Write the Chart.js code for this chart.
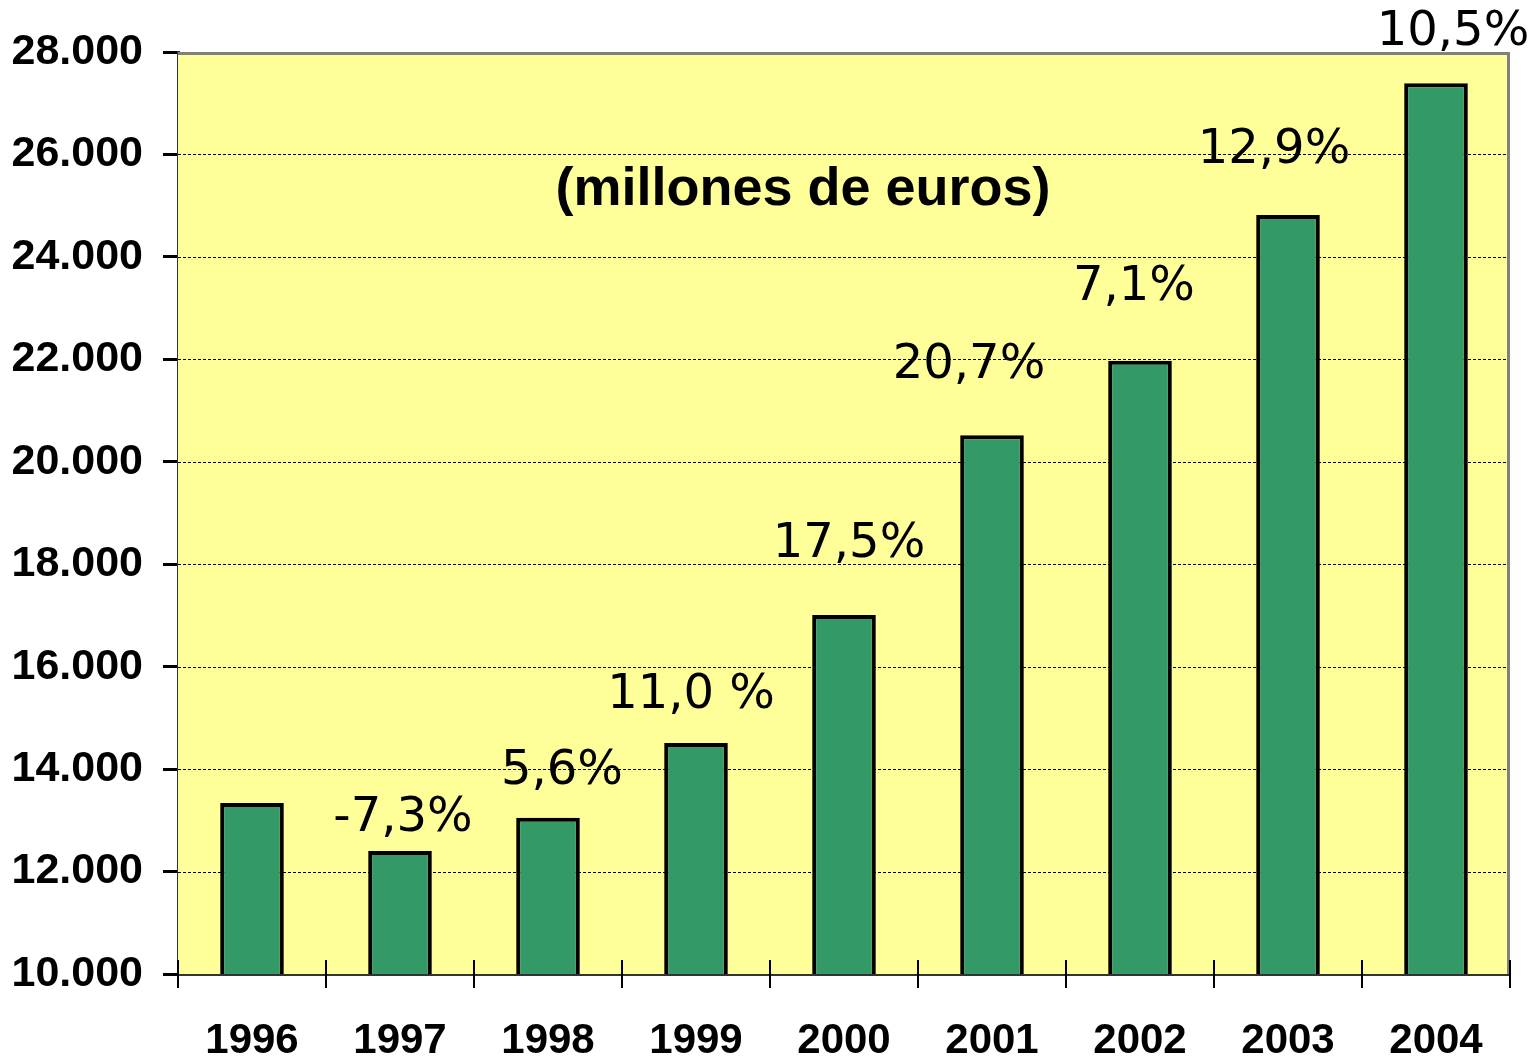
<!DOCTYPE html>
<html>
<head>
<meta charset="utf-8">
<script src="https://cdn.jsdelivr.net/npm/chart.js@4.4.1/dist/chart.umd.min.js"></script>
<style>
  html, body { margin: 0; padding: 0; background: #fff; }
  #wrap { position: relative; width: 1537px; height: 1057px; }
</style>
</head>
<body>
<div id="wrap"><canvas id="chart"></canvas></div>
<script>
// Datos del grafico
const years = ['1996', '1997', '1998', '1999', '2000', '2001', '2002', '2003', '2004'];
const amounts = [13340, 12400, 13050, 14510, 17010, 20520, 21970, 24820, 27390];
const growthLabels = ['', '-7,3%', '5,6%', '11,0 %', '17,5%', '20,7%', '7,1%', '12,9%', '10,5%'];
const yTickMin = 10000;
const yTickMax = 28000;
const yTickStep = 2000;
const unitText = '(millones de euros)';

// desplazamiento de cada etiqueta respecto a la parte alta de su barra
const labelShift = [[0, 0], [3, -33], [14, -46], [-5, -47], [5, -70], [-23, -70], [-6, -73], [-14, -64], [17, -51]];

function thousands(v) {
    return String(v).replace(/\B(?=(\d{3})+(?!\d))/g, '.');
}

const plotDecor = {
    id: 'plotDecor',
    beforeDatasetsDraw(chart) {
        const { ctx, chartArea: a, scales: { y } } = chart;
        ctx.save();
        ctx.fillStyle = '#ffff99';
        ctx.fillRect(a.left, a.top, a.right - a.left, a.bottom - a.top);

        // lineas de division punteadas
        ctx.strokeStyle = '#000';
        ctx.lineWidth = 1;
        ctx.setLineDash([3, 2]);
        y.ticks.forEach(t => {
            if (t.value === yTickMin || t.value === yTickMax) return;
            const py = Math.round(y.getPixelForValue(t.value)) + 0.5;
            ctx.beginPath();
            ctx.moveTo(a.left, py);
            ctx.lineTo(a.right, py);
            ctx.stroke();
        });
        ctx.setLineDash([]);

        // borde gris arriba y a la derecha
        ctx.strokeStyle = '#808080';
        ctx.lineWidth = 3;
        ctx.beginPath();
        ctx.moveTo(a.left, a.top + 1.5);
        ctx.lineTo(a.right - 1.5, a.top + 1.5);
        ctx.lineTo(a.right - 1.5, a.bottom);
        ctx.stroke();
        ctx.restore();
    },
    afterDatasetsDraw(chart) {
        const { ctx, chartArea: a, scales: { x } } = chart;
        ctx.save();

        // marcas del eje x entre categorias
        const half = (x.getPixelForTick(1) - x.getPixelForTick(0)) / 2;
        ctx.strokeStyle = '#000';
        ctx.lineWidth = 2;
        for (let i = 0; i <= years.length; i++) {
            const px = Math.round(i < years.length ? x.getPixelForTick(i) - half : x.getPixelForTick(i - 1) + half);
            ctx.beginPath();
            ctx.moveTo(px, a.bottom - 14);
            ctx.lineTo(px, a.bottom + 14);
            ctx.stroke();
        }

        // etiquetas de crecimiento
        const meta = chart.getDatasetMeta(0);
        ctx.fillStyle = '#000';
        ctx.font = '48px "DejaVu Sans"';
        ctx.textAlign = 'center';
        ctx.textBaseline = 'middle';
        growthLabels.forEach((txt, i) => {
            if (!txt) return;
            const bar = meta.data[i];
            ctx.fillText(txt, bar.x + labelShift[i][0], bar.y + labelShift[i][1]);
        });

        // unidad
        ctx.font = 'bold 54px "Liberation Sans"';
        ctx.fillText(unitText, 803, 190);
        ctx.restore();
    }
};

new Chart(document.getElementById('chart'), {
    type: 'bar',
    data: {
        labels: years,
        datasets: [{
            data: amounts,
            backgroundColor: '#339966',
            borderColor: '#000',
            borderWidth: 4,
            borderSkipped: 'start',
            categoryPercentage: 1,
            barPercentage: 0.43
        }]
    },
    options: {
        responsive: true,
        maintainAspectRatio: false,
        animation: false,
        layout: { padding: { top: 52, right: 27, left: 0, bottom: 0 } },
        plugins: {
            legend: { display: false },
            tooltip: { enabled: false }
        },
        scales: {
            x: {
                offset: true,
                grid: { display: false, drawTicks: false },
                border: { display: true, color: '#333', width: 3 },
                ticks: {
                    color: '#000',
                    padding: 42,
                    font: { family: 'Liberation Sans', size: 42, weight: 'bold' }
                },
                afterFit(scale) { scale.height = 83; }
            },
            y: {
                min: yTickMin,
                max: yTickMax,
                grid: { drawOnChartArea: false, drawTicks: true, tickLength: 15, color: '#000', lineWidth: 3 },
                border: { display: true, color: '#333', width: 3 },
                ticks: {
                    stepSize: yTickStep,
                    color: '#000',
                    padding: 20,
                    font: { family: 'Liberation Sans', size: 43, weight: 'bold' },
                    callback: v => thousands(v)
                },
                afterFit(scale) { scale.width = 178; }
            }
        }
    },
    plugins: [plotDecor]
});
</script>
</body>
</html>
